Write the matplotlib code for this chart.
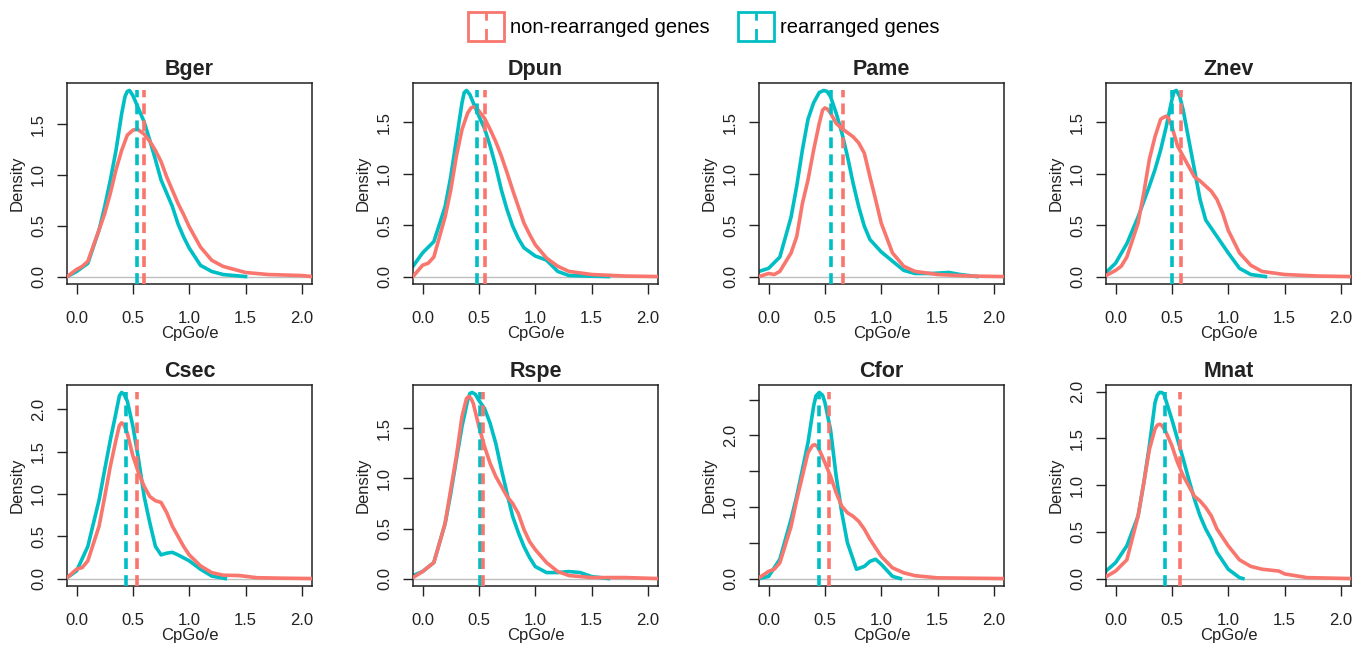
import numpy as np
import matplotlib
matplotlib.use("Agg")
import matplotlib.pyplot as plt
from matplotlib.lines import Line2D
from matplotlib.patches import Rectangle
from matplotlib.legend_handler import HandlerBase

plt.rcParams['font.family'] = ['Liberation Sans', 'DejaVu Sans']

species = ["Bger", "Dpun", "Pame", "Znev", "Csec", "Rspe", "Cfor", "Mnat"]
labels = ["non-rearranged genes", "rearranged genes"]
red = "#F8766D"
teal = "#00BFC4"

# density curves (x = CpGo/e, y = density)
# rear = rearranged genes, non = non-rearranged genes
bger_rear_x = [-0.083, 0.0, 0.05, 0.1, 0.2, 0.25, 0.3, 0.35, 0.4, 0.43, 0.45, 0.47, 0.5, 0.55, 0.6, 0.65, 0.7, 0.75, 0.8, 0.85, 0.9, 0.95, 1.0, 1.1, 1.2, 1.3, 1.5]
bger_rear_y = [0.0, 0.05, 0.09, 0.13, 0.46, 0.69, 0.95, 1.24, 1.60, 1.77, 1.82, 1.83, 1.78, 1.65, 1.52, 1.34, 1.15, 0.95, 0.82, 0.69, 0.52, 0.39, 0.28, 0.11, 0.05, 0.02, 0.0]
bger_non_x = [-0.083, 0.0, 0.05, 0.1, 0.2, 0.25, 0.3, 0.35, 0.4, 0.45, 0.5, 0.54, 0.6, 0.65, 0.7, 0.75, 0.8, 0.85, 0.9, 0.95, 1.0, 1.1, 1.2, 1.3, 1.5, 1.7, 2.0, 2.09]
bger_non_y = [0.0, 0.07, 0.1, 0.15, 0.46, 0.62, 0.82, 1.05, 1.24, 1.39, 1.44, 1.45, 1.40, 1.33, 1.24, 1.13, 0.98, 0.85, 0.72, 0.61, 0.49, 0.29, 0.16, 0.10, 0.04, 0.02, 0.01, 0.0]

dpun_rear_x = [-0.085, 0.0, 0.1, 0.2, 0.25, 0.3, 0.35, 0.37, 0.39, 0.42, 0.45, 0.5, 0.55, 0.6, 0.65, 0.7, 0.75, 0.8, 0.85, 0.9, 0.95, 1.0, 1.1, 1.2, 1.3, 1.45, 1.65]
dpun_rear_y = [0.10, 0.23, 0.34, 0.68, 0.97, 1.33, 1.69, 1.79, 1.81, 1.77, 1.69, 1.56, 1.44, 1.27, 1.07, 0.84, 0.65, 0.49, 0.37, 0.28, 0.24, 0.20, 0.16, 0.05, 0.01, 0.005, 0.0]
dpun_non_x = [-0.085, 0.0, 0.05, 0.1, 0.2, 0.25, 0.3, 0.35, 0.4, 0.43, 0.45, 0.48, 0.5, 0.55, 0.6, 0.65, 0.7, 0.75, 0.8, 0.85, 0.9, 0.95, 1.0, 1.1, 1.2, 1.3, 1.5, 1.8, 2.09]
dpun_non_y = [0.0, 0.11, 0.13, 0.19, 0.58, 0.84, 1.17, 1.43, 1.59, 1.64, 1.65, 1.64, 1.61, 1.54, 1.43, 1.31, 1.17, 1.01, 0.84, 0.68, 0.52, 0.41, 0.31, 0.18, 0.10, 0.05, 0.02, 0.005, 0.0]

pame_rear_x = [-0.085, 0.0, 0.1, 0.2, 0.25, 0.3, 0.35, 0.4, 0.45, 0.49, 0.52, 0.55, 0.6, 0.65, 0.7, 0.75, 0.8, 0.85, 0.9, 1.0, 1.1, 1.2, 1.3, 1.45, 1.6, 1.7, 1.85]
pame_rear_y = [0.05, 0.08, 0.19, 0.58, 0.88, 1.23, 1.53, 1.69, 1.79, 1.81, 1.80, 1.75, 1.59, 1.40, 1.17, 0.91, 0.68, 0.49, 0.36, 0.24, 0.15, 0.06, 0.03, 0.03, 0.04, 0.02, 0.0]
pame_non_x = [-0.085, 0.0, 0.05, 0.1, 0.2, 0.25, 0.3, 0.35, 0.4, 0.45, 0.48, 0.5, 0.52, 0.55, 0.6, 0.65, 0.7, 0.75, 0.8, 0.85, 0.9, 0.95, 1.0, 1.1, 1.2, 1.3, 1.5, 1.8, 2.09]
pame_non_y = [0.0, 0.03, 0.02, 0.05, 0.23, 0.39, 0.71, 0.94, 1.23, 1.49, 1.62, 1.64, 1.63, 1.59, 1.49, 1.44, 1.40, 1.36, 1.30, 1.20, 0.97, 0.75, 0.52, 0.23, 0.10, 0.05, 0.02, 0.005, 0.0]

znev_rear_x = [-0.085, 0.0, 0.1, 0.2, 0.25, 0.3, 0.35, 0.4, 0.45, 0.5, 0.52, 0.54, 0.57, 0.6, 0.65, 0.7, 0.75, 0.8, 0.85, 0.9, 0.95, 1.0, 1.1, 1.2, 1.33]
znev_rear_y = [0.04, 0.13, 0.32, 0.58, 0.73, 0.88, 1.04, 1.23, 1.46, 1.72, 1.80, 1.81, 1.75, 1.62, 1.33, 1.04, 0.75, 0.55, 0.47, 0.39, 0.31, 0.23, 0.08, 0.02, 0.0]
znev_non_x = [-0.085, 0.0, 0.05, 0.1, 0.2, 0.25, 0.3, 0.35, 0.4, 0.43, 0.45, 0.47, 0.5, 0.55, 0.6, 0.65, 0.7, 0.75, 0.8, 0.85, 0.9, 0.95, 1.0, 1.1, 1.2, 1.3, 1.5, 1.8, 2.09]
znev_non_y = [0.01, 0.06, 0.10, 0.19, 0.52, 0.81, 1.14, 1.36, 1.53, 1.55, 1.56, 1.54, 1.46, 1.27, 1.17, 1.07, 0.97, 0.93, 0.88, 0.83, 0.75, 0.62, 0.45, 0.23, 0.11, 0.05, 0.02, 0.005, 0.0]

csec_rear_x = [-0.085, 0.0, 0.1, 0.2, 0.25, 0.3, 0.35, 0.38, 0.4, 0.42, 0.45, 0.5, 0.55, 0.6, 0.65, 0.7, 0.75, 0.8, 0.85, 0.9, 1.0, 1.1, 1.2, 1.32]
csec_rear_y = [0.01, 0.09, 0.38, 0.93, 1.29, 1.64, 1.96, 2.16, 2.20, 2.18, 2.10, 1.80, 1.41, 0.97, 0.66, 0.38, 0.28, 0.30, 0.31, 0.28, 0.21, 0.11, 0.03, 0.0]
csec_non_x = [-0.085, 0.0, 0.05, 0.1, 0.2, 0.25, 0.3, 0.35, 0.38, 0.4, 0.42, 0.45, 0.5, 0.55, 0.6, 0.65, 0.7, 0.75, 0.8, 0.85, 0.9, 0.95, 1.0, 1.1, 1.2, 1.3, 1.45, 1.6, 1.8, 2.09]
csec_non_y = [0.01, 0.11, 0.13, 0.21, 0.62, 0.97, 1.33, 1.64, 1.81, 1.84, 1.82, 1.72, 1.45, 1.25, 1.09, 0.97, 0.92, 0.90, 0.78, 0.62, 0.50, 0.38, 0.28, 0.15, 0.07, 0.04, 0.035, 0.01, 0.005, 0.0]

rspe_rear_x = [-0.085, 0.0, 0.1, 0.2, 0.25, 0.3, 0.35, 0.4, 0.42, 0.44, 0.47, 0.5, 0.55, 0.6, 0.65, 0.7, 0.75, 0.8, 0.85, 0.9, 0.95, 1.0, 1.1, 1.2, 1.3, 1.4, 1.5, 1.65]
rspe_rear_y = [0.03, 0.07, 0.16, 0.55, 0.85, 1.19, 1.52, 1.78, 1.85, 1.86, 1.84, 1.78, 1.70, 1.55, 1.35, 1.09, 0.85, 0.62, 0.46, 0.32, 0.21, 0.12, 0.06, 0.06, 0.07, 0.06, 0.02, 0.0]
rspe_non_x = [-0.085, 0.0, 0.1, 0.2, 0.25, 0.3, 0.35, 0.39, 0.41, 0.43, 0.45, 0.5, 0.55, 0.6, 0.65, 0.7, 0.75, 0.8, 0.85, 0.9, 0.95, 1.0, 1.1, 1.2, 1.3, 1.5, 1.8, 2.09]
rspe_non_y = [0.01, 0.07, 0.16, 0.55, 0.89, 1.22, 1.62, 1.80, 1.82, 1.80, 1.75, 1.52, 1.32, 1.15, 1.02, 0.92, 0.82, 0.75, 0.65, 0.49, 0.37, 0.29, 0.16, 0.07, 0.03, 0.01, 0.01, 0.0]

cfor_rear_x = [-0.085, 0.0, 0.1, 0.2, 0.25, 0.3, 0.35, 0.4, 0.42, 0.45, 0.48, 0.5, 0.55, 0.6, 0.65, 0.7, 0.75, 0.78, 0.85, 0.9, 0.95, 1.0, 1.1, 1.17]
cfor_rear_y = [0.0, 0.03, 0.27, 0.83, 1.15, 1.52, 1.90, 2.41, 2.55, 2.60, 2.56, 2.46, 2.08, 1.43, 0.92, 0.50, 0.27, 0.13, 0.17, 0.24, 0.27, 0.20, 0.03, 0.0]
cfor_non_x = [-0.085, 0.0, 0.05, 0.1, 0.2, 0.25, 0.3, 0.35, 0.39, 0.41, 0.43, 0.45, 0.5, 0.55, 0.6, 0.65, 0.7, 0.75, 0.8, 0.85, 0.9, 1.0, 1.1, 1.2, 1.3, 1.5, 1.8, 2.09]
cfor_non_y = [0.01, 0.10, 0.13, 0.22, 0.73, 1.10, 1.43, 1.76, 1.86, 1.87, 1.85, 1.80, 1.62, 1.43, 1.20, 1.01, 0.92, 0.87, 0.80, 0.69, 0.55, 0.31, 0.15, 0.08, 0.04, 0.01, 0.005, 0.0]

mnat_rear_x = [-0.085, 0.0, 0.1, 0.2, 0.25, 0.3, 0.35, 0.37, 0.39, 0.41, 0.43, 0.5, 0.55, 0.6, 0.65, 0.7, 0.75, 0.8, 0.85, 0.9, 0.95, 1.0, 1.1, 1.13]
mnat_rear_y = [0.08, 0.17, 0.35, 0.67, 1.02, 1.42, 1.88, 1.96, 1.99, 1.99, 1.97, 1.70, 1.49, 1.28, 1.06, 0.85, 0.67, 0.53, 0.42, 0.28, 0.19, 0.10, 0.01, 0.0]
mnat_non_x = [-0.085, 0.0, 0.1, 0.2, 0.25, 0.3, 0.35, 0.37, 0.39, 0.41, 0.45, 0.5, 0.55, 0.6, 0.65, 0.7, 0.75, 0.8, 0.85, 0.9, 0.95, 1.0, 1.1, 1.2, 1.3, 1.45, 1.5, 1.7, 2.09]
mnat_non_y = [0.02, 0.08, 0.20, 0.67, 1.02, 1.38, 1.60, 1.64, 1.65, 1.64, 1.56, 1.42, 1.24, 1.10, 0.99, 0.88, 0.83, 0.76, 0.67, 0.53, 0.44, 0.35, 0.20, 0.13, 0.10, 0.08, 0.05, 0.01, 0.0]

# medians (dashed lines)
median_rear = [0.54, 0.48, 0.555, 0.50, 0.44, 0.51, 0.445, 0.44]
median_non = [0.60, 0.55, 0.66, 0.58, 0.54, 0.54, 0.54, 0.57]

rear = [(bger_rear_x, bger_rear_y), (dpun_rear_x, dpun_rear_y), (pame_rear_x, pame_rear_y),
        (znev_rear_x, znev_rear_y), (csec_rear_x, csec_rear_y), (rspe_rear_x, rspe_rear_y),
        (cfor_rear_x, cfor_rear_y), (mnat_rear_x, mnat_rear_y)]
non = [(bger_non_x, bger_non_y), (dpun_non_x, dpun_non_y), (pame_non_x, pame_non_y),
       (znev_non_x, znev_non_y), (csec_non_x, csec_non_y), (rspe_non_x, rspe_non_y),
       (cfor_non_x, cfor_non_y), (mnat_non_x, mnat_non_y)]

xticks = [0.0, 0.5, 1.0, 1.5, 2.0]
ylabel_step = {"Cfor": 1.0}  # R drops overlapping labels here


class BoxDash(HandlerBase):
    # legend key: coloured box with a dashed vertical line
    def create_artists(self, legend, orig_handle, xdescent, ydescent, width, height, fontsize, trans):
        c = orig_handle.get_color()
        box = Rectangle((-xdescent, -ydescent), width, height, fill=False, edgecolor=c, lw=2, transform=trans)
        mid = -xdescent + width / 2
        ln = Line2D([mid, mid], [-ydescent, -ydescent + height], color=c, lw=2,
                    linestyle=(0, (4.5, 3)), transform=trans)
        return [box, ln]


W, H = 1367, 648
fig = plt.figure(figsize=(W / 100, H / 100), dpi=100)
lefts = [67, 413, 759, 1106]
tops = [83, 385]
aw, ah = 245, 201
lw = 2.6

for i, name in enumerate(species):
    r, c = divmod(i, 4)
    ax = fig.add_axes([lefts[c] / W, 1 - (tops[r] + ah) / H, aw / W, ah / H])
    top = max(max(rear[i][1]), max(non[i][1]))
    ax.set_xlim(-0.085, 2.09)
    ax.set_ylim(-0.04 * top, 1.04 * top)
    ax.axhline(0, color="#BEBEBE", lw=1, zorder=1)
    ax.plot(rear[i][0], rear[i][1], color=teal, lw=lw, zorder=2, solid_joinstyle="round")
    ax.plot(non[i][0], non[i][1], color=red, lw=lw, zorder=3, solid_joinstyle="round")
    lo = ax.get_ylim()[0]
    ax.vlines(median_rear[i], lo, top, color=teal, lw=lw, linestyles=[(0, (3.0, 1.7))], zorder=4)
    ax.vlines(median_non[i], lo, top, color=red, lw=lw, linestyles=[(0, (3.0, 1.7))], zorder=5)

    ax.set_xticks(xticks)
    ax.set_xticklabels([f"{v:.1f}" for v in xticks])
    yt = np.arange(0, 1.04 * top, 0.5)
    step = ylabel_step.get(name, 0.5)
    ax.set_yticks(yt)
    ax.set_yticklabels([f"{v:.1f}" if abs(v / step - round(v / step)) < 1e-6 else "" for v in yt],
                       rotation=90, va="center")
    ax.tick_params(direction="out", length=7, width=1, labelsize=12, colors="#222222")
    ax.tick_params(axis="x", pad=12.5)
    ax.tick_params(axis="y", pad=8)
    for s in ax.spines.values():
        s.set_linewidth(1.1)
        s.set_color("#222222")
    ax.set_title(name, fontweight="bold", fontsize=15.5, pad=6, color="#222222")
    ax.set_xlabel("CpGo/e", fontsize=12, labelpad=0, color="#222222")
    ax.set_ylabel("Density", fontsize=12, labelpad=4.5, color="#222222")

handles = [Line2D([], [], color=red), Line2D([], [], color=teal)]
fig.legend(handles, labels, handler_map={Line2D: BoxDash()}, loc="center",
           bbox_to_anchor=(703.5 / W, 1 - 26.5 / H), ncol=2, frameon=False, fontsize=14.5,
           handlelength=1.8, handleheight=1.8, handletextpad=0.3, columnspacing=1.4, borderpad=0)

fig.savefig("out.png", dpi=100)
